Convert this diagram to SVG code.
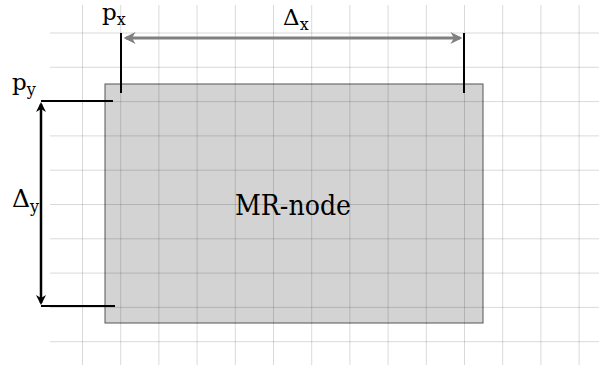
<svg xmlns="http://www.w3.org/2000/svg" width="599" height="370" viewBox="0 0 599 370">
<defs>
<style>
text{font-family:'DejaVu Serif','Noto Serif','Tinos','Nimbus Roman','FreeSerif','Liberation Serif',serif;fill:#000}
.grid line{stroke:#000;stroke-opacity:0.15;stroke-width:1}
.tick{stroke:#000;stroke-width:2}
</style>
<marker id="ag" viewBox="0 0 10 10" refX="8" refY="5" markerWidth="4" markerHeight="4" orient="auto-start-reverse" markerUnits="strokeWidth">
<path d="M0,0 L10,5 L0,10 L3,5 Z" fill="#808080"/>
</marker>
<marker id="ab" viewBox="0 0 10 10" refX="8" refY="5" markerWidth="4" markerHeight="4" orient="auto-start-reverse" markerUnits="strokeWidth">
<path d="M0,0 L10,5 L0,10 L3,5 Z" fill="#000"/>
</marker>
</defs>
<rect width="599" height="370" fill="#fff"/>
<g id="mr-node">
<rect x="105" y="84" width="378" height="239" fill="#d3d3d3" stroke="#555" stroke-width="1"/>
<text x="235" y="215" font-size="28" textLength="116" lengthAdjust="spacingAndGlyphs">MR-node</text>
</g>
<g class="grid" id="grid">
<line x1="82.5" y1="5" x2="82.5" y2="365"/>
<line x1="120.7" y1="5" x2="120.7" y2="365"/>
<line x1="158.9" y1="5" x2="158.9" y2="365"/>
<line x1="197.1" y1="5" x2="197.1" y2="365"/>
<line x1="235.3" y1="5" x2="235.3" y2="365"/>
<line x1="273.5" y1="5" x2="273.5" y2="365"/>
<line x1="311.7" y1="5" x2="311.7" y2="365"/>
<line x1="349.9" y1="5" x2="349.9" y2="365"/>
<line x1="388.1" y1="5" x2="388.1" y2="365"/>
<line x1="426.3" y1="5" x2="426.3" y2="365"/>
<line x1="464.5" y1="5" x2="464.5" y2="365"/>
<line x1="502.7" y1="5" x2="502.7" y2="365"/>
<line x1="540.9" y1="5" x2="540.9" y2="365"/>
<line x1="579.1" y1="5" x2="579.1" y2="365"/>
<line x1="50" y1="33" x2="599" y2="33"/>
<line x1="50" y1="67.3" x2="599" y2="67.3"/>
<line x1="50" y1="101.6" x2="599" y2="101.6"/>
<line x1="50" y1="135.9" x2="599" y2="135.9"/>
<line x1="50" y1="170.2" x2="599" y2="170.2"/>
<line x1="50" y1="204.5" x2="599" y2="204.5"/>
<line x1="50" y1="238.8" x2="599" y2="238.8"/>
<line x1="50" y1="273.1" x2="599" y2="273.1"/>
<line x1="50" y1="307.4" x2="599" y2="307.4"/>
<line x1="50" y1="341.7" x2="599" y2="341.7"/>
</g>
<g id="connectors">
<line class="tick" x1="121" y1="33" x2="121" y2="93"/>
<line class="tick" x1="464" y1="33" x2="464" y2="93"/>
<line class="tick" x1="41" y1="101" x2="113" y2="101"/>
<line class="tick" x1="41" y1="306" x2="115" y2="306"/>
<line x1="126" y1="38" x2="460" y2="38" stroke="#808080" stroke-width="3" marker-start="url(#ag)" marker-end="url(#ag)"/>
<line x1="41" y1="104" x2="41" y2="303" stroke="#000" stroke-width="2.5" marker-start="url(#ab)" marker-end="url(#ab)"/>
</g>
<g id="labels">
<text x="102" y="20" font-size="23">p<tspan font-size="16" dy="5">x</tspan></text>
<text x="283" y="25" font-size="23">Δ<tspan font-size="16" dy="5">x</tspan></text>
<text x="12" y="90" font-size="23">p<tspan font-size="16" dy="5">y</tspan></text>
<text x="12" y="207" font-size="25">Δ<tspan font-size="16" dy="5">y</tspan></text>
</g>
</svg>
